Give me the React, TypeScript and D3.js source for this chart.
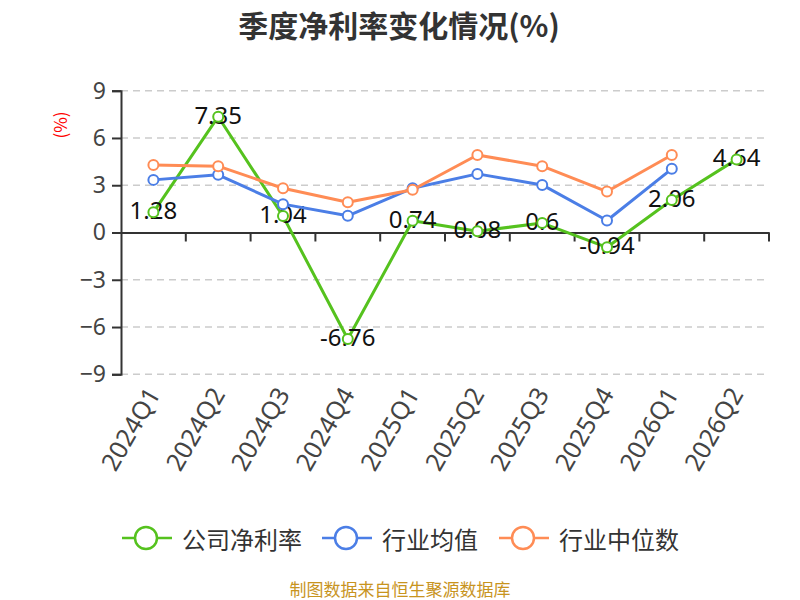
import React, { useEffect, useRef } from 'react';
import * as d3 from 'd3';

const quarters = ['2024Q1', '2024Q2', '2024Q3', '2024Q4', '2025Q1', '2025Q2', '2025Q3', '2025Q4', '2026Q1', '2026Q2'];
const companyRate = [1.28, 7.35, 1.04, -6.76, 0.74, 0.08, 0.6, -0.94, 2.06, 4.64];
const industryMean = [3.34, 3.66, 1.8, 1.06, 2.81, 3.72, 3.02, 0.76, 4.04, null];
const industryMedian = [4.29, 4.21, 2.81, 1.92, 2.71, 4.92, 4.21, 2.6, 4.92, null];
const yTicks = [-9, -6, -3, 0, 3, 6, 9];

const seriesNames = ['公司净利率', '行业均值', '行业中位数'];
const seriesColors = ['#55c21e', '#4b7ee6', '#ff8c55'];

const App = () => {
  const svgRef = useRef(null);

  useEffect(() => {
    const width = 800;
    const height = 600;
    const svg = d3.select(svgRef.current).attr('width', width).attr('height', height);
    svg.selectAll('*').remove();

    const x = d3.scaleBand().domain(quarters).range([121, 769]).padding(0);
    const y = d3.scaleLinear().domain([-9, 9]).range([374.3, 90.7]);
    const cx = (q) => x(q) + x.bandwidth() / 2;

    // title
    svg.append('text')
      .attr('x', 399).attr('y', 24)
      .attr('text-anchor', 'middle').attr('dominant-baseline', 'central')
      .attr('font-family', '"Noto Sans CJK SC", sans-serif')
      .attr('font-size', 30).attr('font-weight', 'bold').attr('fill', '#333')
      .text('季度净利率变化情况(%)');

    // unit label
    svg.append('text')
      .attr('transform', 'translate(59,125) rotate(-90)')
      .attr('text-anchor', 'middle').attr('dominant-baseline', 'central')
      .attr('font-family', '"Noto Sans CJK SC", sans-serif')
      .attr('font-size', 17).attr('fill', 'red')
      .text('(%)');

    // grid lines
    svg.append('g').selectAll('line')
      .data(yTicks.filter((t) => t !== 0))
      .enter().append('line')
      .attr('x1', 121).attr('x2', 769)
      .attr('y1', (d) => y(d)).attr('y2', (d) => y(d))
      .attr('stroke', '#ccc').attr('stroke-width', 1.5).attr('stroke-dasharray', '7,5');

    // y axis
    const yAxis = svg.append('g')
      .attr('transform', 'translate(121,0)')
      .call(d3.axisLeft(y).tickValues(yTicks).tickSize(9).tickPadding(6));
    yAxis.select('.domain').attr('stroke', '#333').attr('stroke-width', 2);
    yAxis.selectAll('.tick line').attr('stroke', '#333').attr('stroke-width', 2);
    yAxis.selectAll('.tick text')
      .attr('font-family', '"Noto Sans", sans-serif')
      .attr('font-size', 23).attr('fill', '#444');

    // x axis on zero line
    const xAxis = svg.append('g')
      .attr('transform', `translate(0,${y(0)})`)
      .call(d3.axisBottom(x).tickSize(0).tickFormat(() => ''));
    xAxis.select('.domain').attr('stroke', '#333').attr('stroke-width', 2);
    xAxis.selectAll('.tick').remove();
    svg.append('g').selectAll('line')
      .data(quarters)
      .enter().append('line')
      .attr('x1', (d) => x(d) + x.bandwidth()).attr('x2', (d) => x(d) + x.bandwidth())
      .attr('y1', y(0)).attr('y2', y(0) + 9)
      .attr('stroke', '#333').attr('stroke-width', 2);

    // x labels below the plot
    svg.append('g').selectAll('text')
      .data(quarters)
      .enter().append('text')
      .attr('transform', (d) => `translate(${cx(d) - 1},389) rotate(-60)`)
      .attr('text-anchor', 'end').attr('dominant-baseline', 'central')
      .attr('font-family', '"Noto Sans", sans-serif')
      .attr('font-size', 25).attr('fill', '#444')
      .text((d) => d);

    const allSeries = [companyRate, industryMean, industryMedian];
    const line = d3.line()
      .defined((d) => d.v !== null)
      .x((d) => cx(d.q))
      .y((d) => y(d.v));

    allSeries.forEach((vals, i) => {
      const pts = quarters.map((q, j) => ({ q, v: vals[j] }));
      svg.append('path')
        .attr('d', line(pts))
        .attr('fill', 'none')
        .attr('stroke', seriesColors[i])
        .attr('stroke-width', 3)
        .attr('stroke-linejoin', 'round');

      if (i === 0) {
        svg.append('g').selectAll('text')
          .data(pts)
          .enter().append('text')
          .attr('x', (d) => cx(d.q))
          .attr('y', (d) => y(d.v) - 2.5)
          .attr('text-anchor', 'middle').attr('dominant-baseline', 'central')
          .attr('font-family', '"Noto Sans", sans-serif')
          .attr('font-size', 24).attr('fill', '#111')
          .text((d) => d.v);
      }

      svg.append('g').selectAll('circle')
        .data(pts.filter((d) => d.v !== null))
        .enter().append('circle')
        .attr('cx', (d) => cx(d.q))
        .attr('cy', (d) => y(d.v))
        .attr('r', 5)
        .attr('fill', '#fff')
        .attr('stroke', seriesColors[i])
        .attr('stroke-width', 2);
    });

    // legend
    const legendX = [122, 322, 499];
    const legend = svg.append('g').selectAll('g')
      .data(seriesNames)
      .enter().append('g')
      .attr('transform', (d, i) => `translate(${legendX[i]},538)`);
    legend.append('line')
      .attr('x1', 0).attr('x2', 50)
      .attr('stroke', (d, i) => seriesColors[i]).attr('stroke-width', 2.5);
    legend.append('circle')
      .attr('cx', 24).attr('r', 11)
      .attr('fill', '#fff')
      .attr('stroke', (d, i) => seriesColors[i]).attr('stroke-width', 2.5);
    legend.append('text')
      .attr('x', 60)
      .attr('dominant-baseline', 'central')
      .attr('font-family', '"Noto Sans CJK SC", sans-serif')
      .attr('font-size', 24).attr('fill', '#333')
      .text((d) => d);

    // source note
    svg.append('text')
      .attr('x', 400).attr('y', 588)
      .attr('text-anchor', 'middle').attr('dominant-baseline', 'central')
      .attr('font-family', '"Noto Sans CJK SC", sans-serif')
      .attr('font-size', 17).attr('fill', '#c8941e')
      .text('制图数据来自恒生聚源数据库');
  }, []);

  return (
    <svg ref={svgRef} style={{ position: 'absolute', left: 0, top: 0 }}></svg>
  );
};

export default App;
